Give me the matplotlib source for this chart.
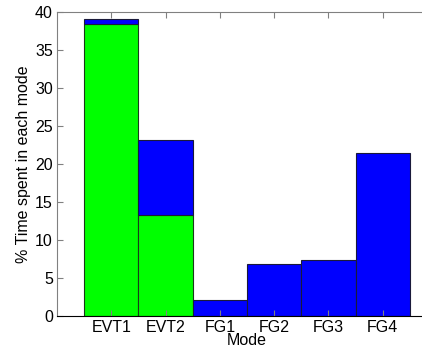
import numpy as np
import matplotlib
matplotlib.use("Agg")
import matplotlib.pyplot as plt

modes = ["EVT1", "EVT2", "FG1", "FG2", "FG3", "FG4"]
evt_part = [38.5, 13.2, 0, 0, 0, 0]
fg_part = [0.6, 10.0, 2.0, 6.85, 7.28, 21.45]

plt.rcParams['font.family'] = ['Liberation Sans', 'DejaVu Sans']

fig = plt.figure(figsize=(4.22, 3.49), dpi=100)
# axes run past the right edge, as in the cropped original
ax = fig.add_axes([57 / 422, 33.5 / 349, 380 / 422, 303.2 / 349])

x = np.arange(1, len(modes) + 1)
ax.bar(x, evt_part, width=1.0, color=(0, 1, 0), edgecolor="#1a3a1a", lw=0.8)
ax.bar(x, fg_part, width=1.0, bottom=evt_part, color=(0, 0, 1),
       edgecolor="#1a1a3a", lw=0.8)

ax.set_xlim(0, 7)
ax.set_ylim(0, 40)
ax.set_xticks(x)
ax.set_xticklabels(modes)
ax.set_yticks(np.arange(0, 41, 5))
ax.tick_params(direction="in", top=True, right=False, labelsize=11.5,
               length=4, color="#808080", pad=3)
for s in ["left", "top"]:
    ax.spines[s].set_color("#808080")
ax.spines["right"].set_visible(False)
ax.spines["bottom"].set_color("black")
ax.set_ylabel("% Time spent in each mode", fontsize=11.5, labelpad=3)
# the original crops this label at the bottom; kept just inside here
ax.set_xlabel("Mode", fontsize=11.5, labelpad=-1)

fig.savefig("out.png", dpi=100)
